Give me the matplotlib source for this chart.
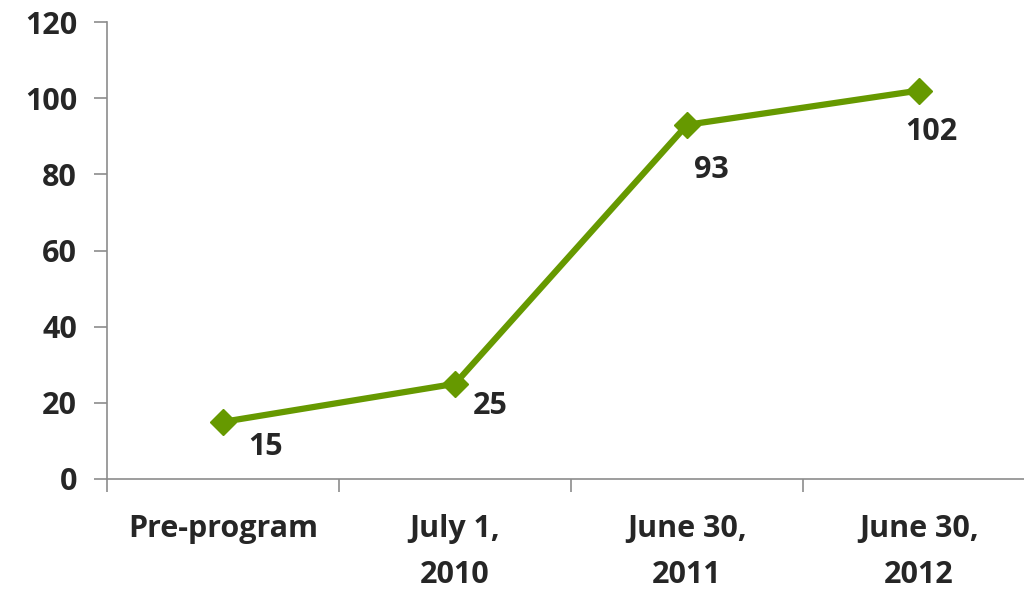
import matplotlib
matplotlib.use("Agg")
import matplotlib.pyplot as plt

categories = ["Pre-program", "July 1,\n2010", "June 30,\n2011", "June 30,\n2012"]
values = [15, 25, 93, 102]
yticks = [0, 20, 40, 60, 80, 100, 120]

label_offsets = [(43, -25), (35, -22), (24, -45), (12, -41)]  # pixels

plt.rcParams['font.family'] = ['Open Sans', 'DejaVu Sans']
plt.rcParams['font.weight'] = 'bold'

fig = plt.figure(figsize=(10.24, 5.90), dpi=100)
ax = fig.add_axes([107/1024, 111/590, (1024-107)/1024, (479-22)/590])

green = '#669900'
axis_col = '#8c8c8c'
x = list(range(len(values)))
ax.plot(x, values, color=green, lw=4.5, marker='D', markersize=13,
        markerfacecolor=green, markeredgecolor=green, solid_capstyle='round')

for xi, v, (dx, dy) in zip(x, values, label_offsets):
    ax.annotate(str(v), (xi, v), xytext=(dx * 0.72, dy * 0.72), textcoords='offset points',
                ha='center', va='center', fontsize=22, fontweight='bold', color='#262626')

ax.set_xlim(-0.5, (1024 - 222) / 232.3)
ax.set_ylim(0, 120)
ax.set_yticks(yticks)
ax.set_yticklabels([str(t) for t in yticks])
ax.set_xticks([-0.5, 0.5, 1.5, 2.5])
ax.set_xticklabels([])
ax.set_xticks(x, minor=True)
ax.set_xticklabels(categories, minor=True, linespacing=1.72)

for s in ['top', 'right']:
    ax.spines[s].set_visible(False)
for s in ['left', 'bottom']:
    ax.spines[s].set_color(axis_col)
    ax.spines[s].set_linewidth(1.2)

ax.tick_params(axis='y', which='major', direction='out', length=9.5, width=1.2, color=axis_col,
               labelsize=22, labelcolor='#262626', pad=12)
ax.tick_params(axis='x', which='major', direction='out', length=9.5, width=1.2, color=axis_col)
ax.tick_params(axis='x', which='minor', length=0, labelsize=22, labelcolor='#262626', pad=25)
for lab in ax.get_xticklabels(minor=True) + ax.get_yticklabels():
    lab.set_fontweight('bold')

fig.savefig('out.png', dpi=100, facecolor='white')
